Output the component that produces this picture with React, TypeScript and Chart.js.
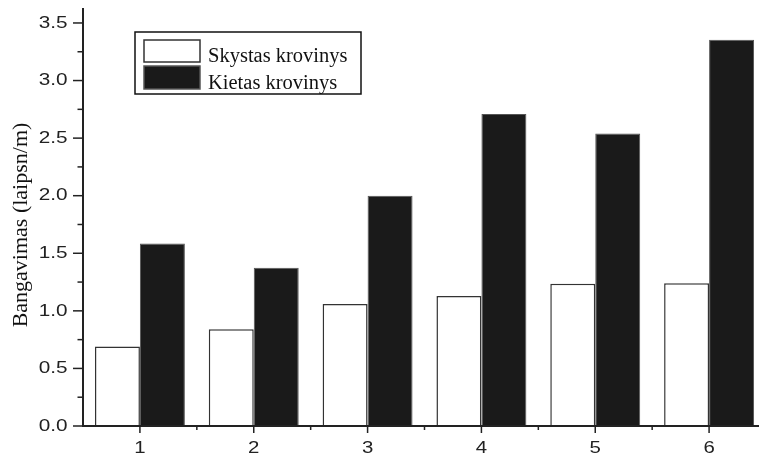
import React, { useEffect, useRef } from "react";
import { Chart, registerables } from "chart.js";

Chart.register(...registerables);

const CATEGORIES = ["1", "2", "3", "4", "5", "6"];
const SKYSTAS = [0.69, 0.84, 1.06, 1.13, 1.235, 1.24];
const KIETAS = [1.585, 1.375, 2.0, 2.71, 2.54, 3.355];
const SERIES_NAMES = ["Skystas krovinys", "Kietas krovinys"];
const Y_TITLE = "Bangavimas (laipsn/m)";
const Y_MIN = 0;
const Y_MAX = 3.63;
const Y_STEP = 0.5;

const AXIS_COLOR = "#222";
const SANS = '"Liberation Sans", Arial, sans-serif';
const SERIF = '"Liberation Serif", "Times New Roman", serif';

const decorPlugin = {
  id: "decor",
  afterDraw(chart: any) {
    const ctx = chart.ctx as CanvasRenderingContext2D;
    const xs = chart.scales.x;
    const ys = chart.scales.y;
    const area = chart.chartArea;
    ctx.save();
    ctx.strokeStyle = AXIS_COLOR;
    ctx.fillStyle = AXIS_COLOR;

    // axes lines
    ctx.lineWidth = 2;
    ctx.beginPath();
    ctx.moveTo(area.left, area.top);
    ctx.lineTo(area.left, area.bottom + 1);
    ctx.moveTo(area.left - 1, area.bottom);
    ctx.lineTo(area.right + 20, area.bottom);
    ctx.stroke();

    // y ticks
    ctx.lineWidth = 1.5;
    const yt = ys.ticks;
    ctx.font = "17px " + SANS;
    ctx.textAlign = "right";
    ctx.textBaseline = "middle";
    for (let i = 0; i < yt.length; i++) {
      const py = ys.getPixelForValue(yt[i].value);
      ctx.beginPath();
      ctx.moveTo(area.left - 10, py);
      ctx.lineTo(area.left, py);
      ctx.stroke();
      ctx.save();
      ctx.translate(area.left - 15.5, py);
      ctx.scale(1.22, 1);
      ctx.fillText(yt[i].value.toFixed(1), 0, 0);
      ctx.restore();
      if (i < yt.length - 1) {
        const pm = ys.getPixelForValue((yt[i].value + yt[i + 1].value) / 2);
        ctx.beginPath();
        ctx.moveTo(area.left - 5.5, pm);
        ctx.lineTo(area.left, pm);
        ctx.stroke();
      }
    }

    // x ticks
    const xt = xs.ticks;
    ctx.textAlign = "center";
    for (let i = 0; i < xt.length; i++) {
      const px = xs.getPixelForTick(i);
      ctx.beginPath();
      ctx.moveTo(px, area.bottom);
      ctx.lineTo(px, area.bottom + 7);
      ctx.stroke();
      ctx.save();
      ctx.translate(px, area.bottom + 22);
      ctx.scale(1.2, 1);
      ctx.fillText(String(chart.data.labels[i]), 0, 0);
      ctx.restore();
      if (i < xt.length - 1) {
        const pn = (px + xs.getPixelForTick(i + 1)) / 2;
        ctx.beginPath();
        ctx.moveTo(pn, area.bottom);
        ctx.lineTo(pn, area.bottom + 4);
        ctx.stroke();
      }
    }

    // y title
    ctx.save();
    ctx.fillStyle = "#111";
    ctx.font = "22px " + SERIF;
    ctx.textAlign = "center";
    ctx.textBaseline = "alphabetic";
    ctx.translate(27, 225);
    ctx.rotate(-Math.PI / 2);
    ctx.fillText(Y_TITLE, 0, 0);
    ctx.restore();

    // legend
    const lx = 135, ly = 32, lw = 226, lh = 62;
    ctx.lineWidth = 1.5;
    ctx.strokeStyle = "#111";
    ctx.fillStyle = "#fff";
    ctx.fillRect(lx, ly, lw, lh);
    ctx.strokeRect(lx, ly, lw, lh);
    const ds = chart.data.datasets;
    const rows = [
      { y: 40, h: 22, base: 57 },
      { y: 66, h: 23, base: 83.5 },
    ];
    ctx.font = "20.5px " + SERIF;
    ctx.textAlign = "left";
    for (let i = 0; i < ds.length; i++) {
      const r = rows[i];
      ctx.fillStyle = ds[i].backgroundColor;
      ctx.fillRect(144, r.y, 56, r.h);
      ctx.strokeStyle = ds[i].borderColor;
      ctx.lineWidth = 1.5;
      ctx.strokeRect(144, r.y, 56, r.h);
      ctx.fillStyle = "#111";
      ctx.fillText(ds[i].label, 208, r.base);
    }
    ctx.restore();
  },
};

export default function App() {
  const ref = useRef<HTMLCanvasElement>(null);
  useEffect(() => {
    if (!ref.current) return;
    const chart = new Chart(ref.current, {
      type: "bar",
      data: {
        labels: CATEGORIES,
        datasets: [
          {
            label: SERIES_NAMES[0],
            data: SKYSTAS,
            backgroundColor: "#ffffff",
            borderColor: "#333333",
            borderWidth: 1.5,
            categoryPercentage: 0.79,
            barPercentage: 1.0,
          },
          {
            label: SERIES_NAMES[1],
            data: KIETAS,
            backgroundColor: "#1a1a1a",
            borderColor: "#555555",
            borderWidth: 1,
            categoryPercentage: 0.79,
            barPercentage: 1.0,
          },
        ],
      },
      options: {
        animation: false,
        responsive: true,
        maintainAspectRatio: false,
        layout: { padding: { top: 8, right: 14, left: 0, bottom: 0 } },
        plugins: { legend: { display: false }, tooltip: { enabled: false } },
        scales: {
          x: {
            type: "category",
            offset: true,
            grid: { display: false },
            border: { display: false },
            ticks: { display: false },
            afterFit: (s: any) => {
              s.height = 33;
            },
          },
          y: {
            min: Y_MIN,
            max: Y_MAX,
            ticks: { display: false, stepSize: Y_STEP, includeBounds: false },
            grid: { display: false },
            border: { display: false },
            afterFit: (s: any) => {
              s.width = 83;
            },
          },
        },
      },
      plugins: [decorPlugin],
    } as any);
    return () => chart.destroy();
  }, []);

  return (
    <div
      style={{
        position: "fixed",
        left: 0,
        top: 0,
        width: 759,
        height: 459,
        overflow: "hidden",
        background: "#fff",
      }}
    >
      <div style={{ position: "relative", width: 780, height: 459 }}>
        <canvas ref={ref} />
      </div>
    </div>
  );
}
